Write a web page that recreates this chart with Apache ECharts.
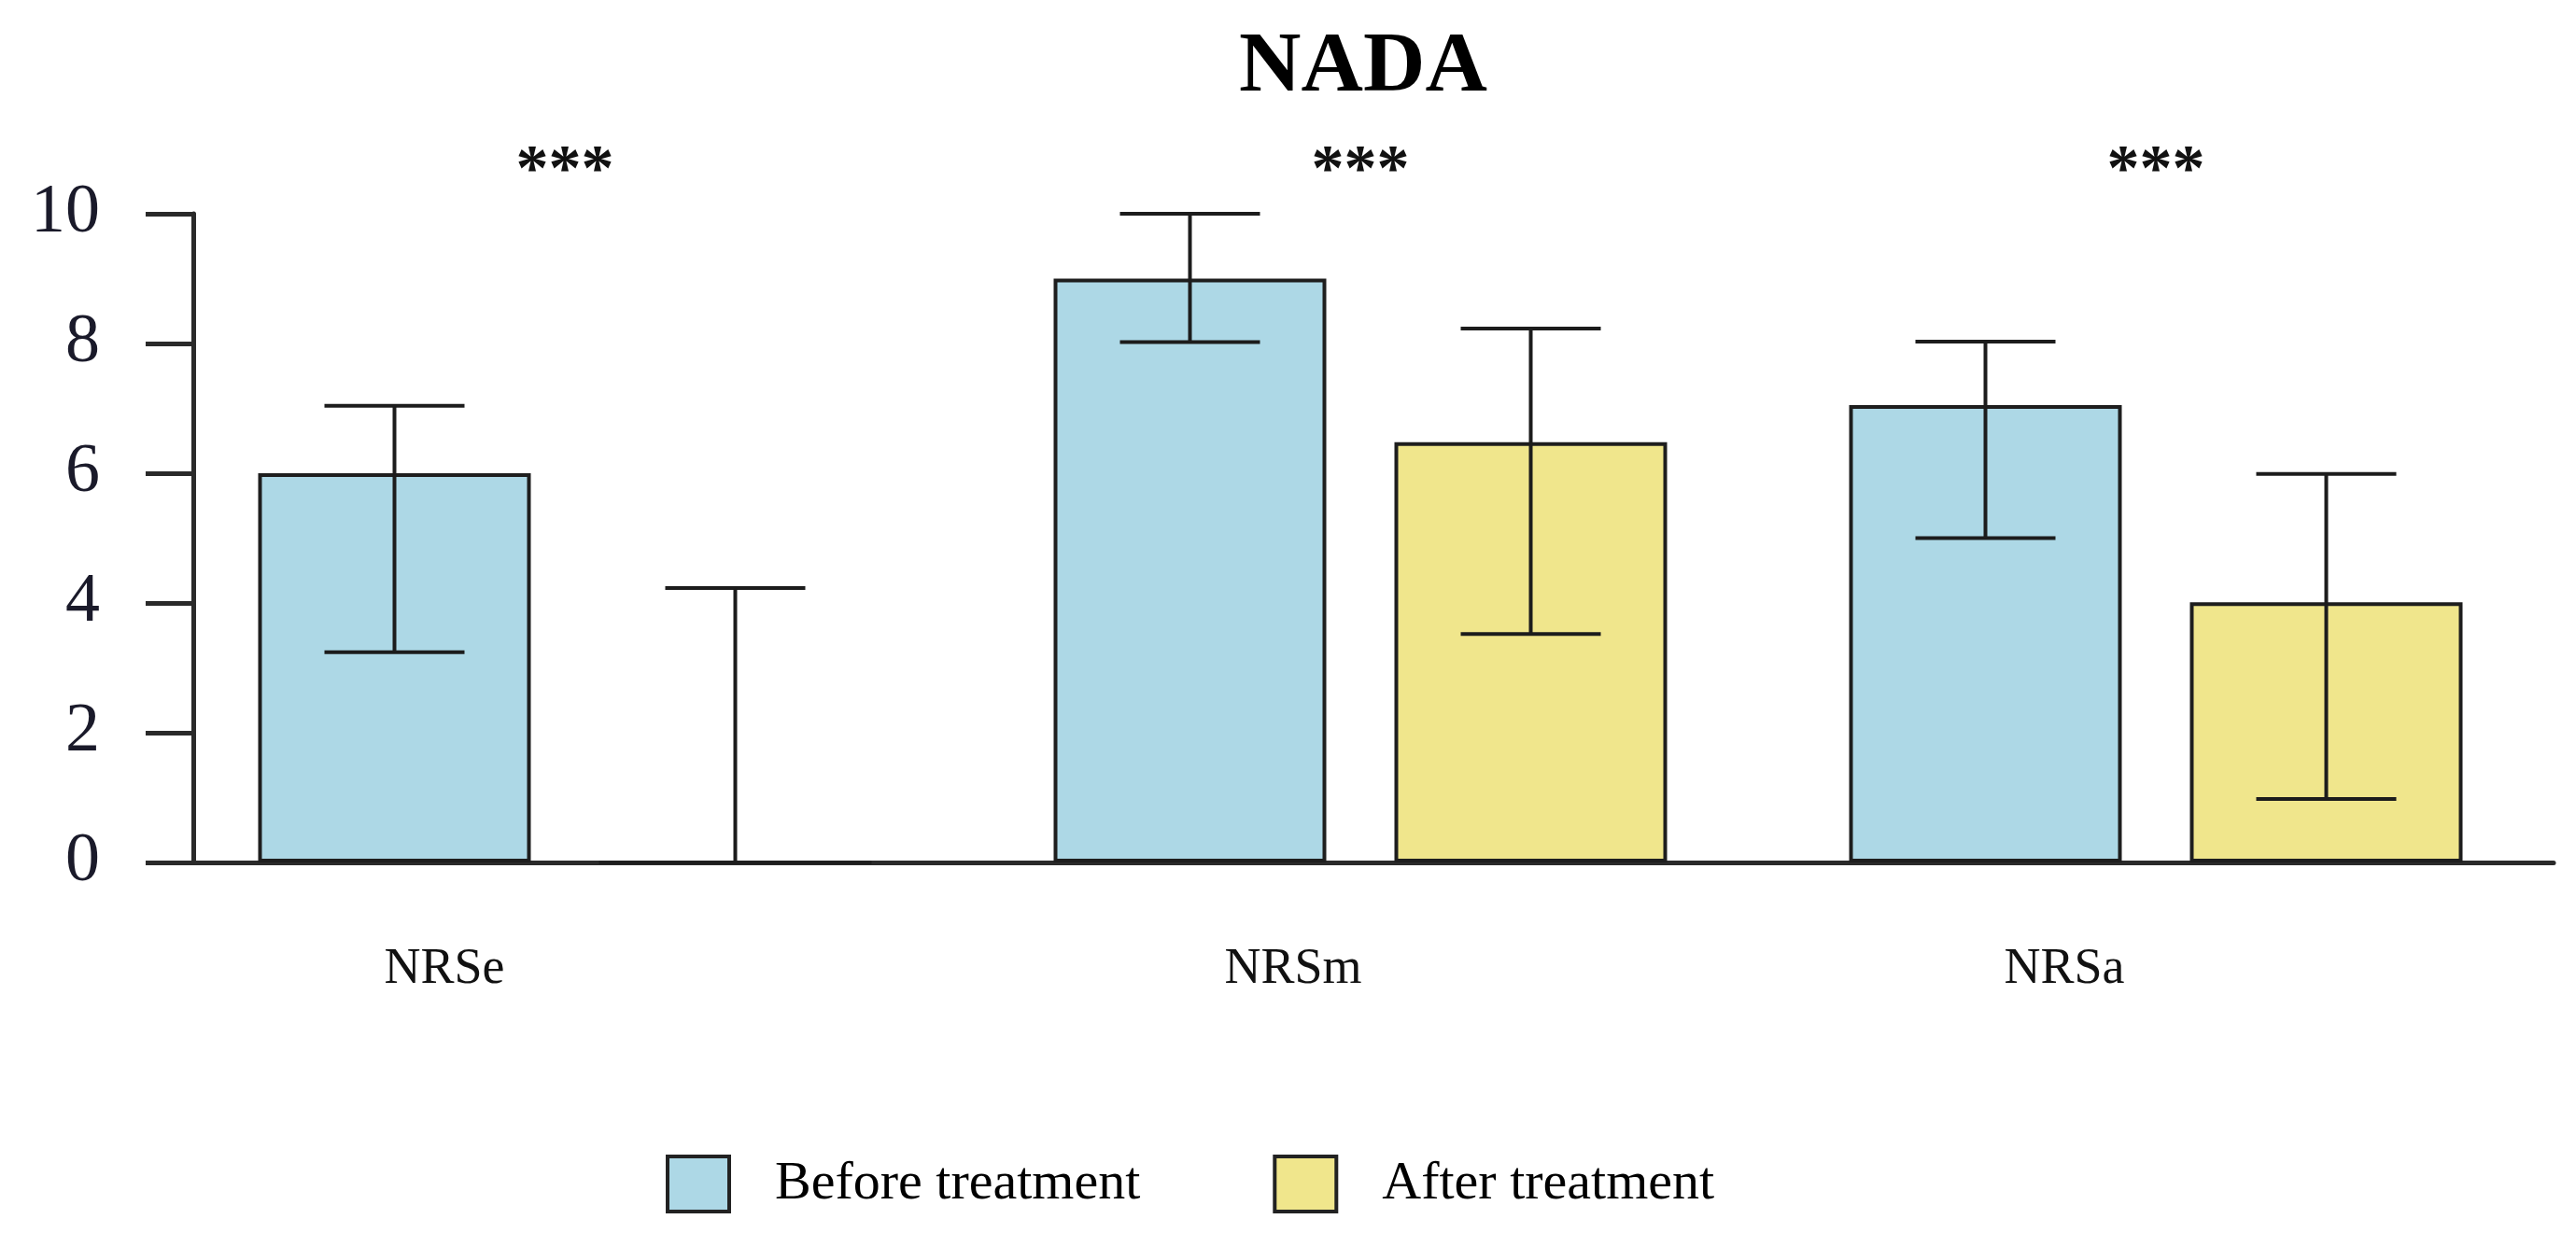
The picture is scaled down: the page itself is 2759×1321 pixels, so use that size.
<!DOCTYPE html>
<html>
<head>
<meta charset="utf-8">
<script src="https://cdn.jsdelivr.net/npm/echarts@6/dist/echarts.min.js"></script>
<style>
html,body{margin:0;padding:0;background:#fff;}
#chart{width:2759px;height:1321px;}
</style>
</head>
<body>
<div id="chart"></div>
<script>
// ---- data ----
const categories = ['NRSe', 'NRSm', 'NRSa'];
const beforeMean = [6.0, 9.0, 7.05];
const afterMean = [0, 6.48, 4.01];
const beforeLow = [3.24, 8.02, 5.0];
const beforeHigh = [7.04, 10.0, 8.03];
const afterLow = [0, 3.52, 0.98];
const afterHigh = [4.23, 8.23, 5.99];
const significance = ['***', '***', '***'];
const sigLevel = [10.63, 10.63, 10.63];
const yTickValues = [0, 2, 4, 6, 8, 10];
const seriesNames = ['Before treatment', 'After treatment'];

// ---- layout constants ----
const FONT = 'Liberation Serif';
const BAR_W = 292;
const BAR_GAP_PX = 73;
const CAP_W = 150;
const labelShift = [-129, -72, -98];

const chart = echarts.init(document.getElementById('chart'), null, {renderer: 'canvas'});

function errData(low, high) {
  return categories.map((c, i) => [i, low[i], high[i]]);
}

function errRender(side) {
  return function (params, api) {
    const idx = api.value(0);
    const lo = api.coord([idx, api.value(1)]);
    const hi = api.coord([idx, api.value(2)]);
    const shift = side * (BAR_W + BAR_GAP_PX) / 2;
    const x = lo[0] + shift;
    const style = {stroke: '#1c1c1c', lineWidth: 4};
    const children = [
      {type: 'line', shape: {x1: x, y1: lo[1], x2: x, y2: hi[1]}, style: style},
      {type: 'line', shape: {x1: x - CAP_W / 2, y1: hi[1], x2: x + CAP_W / 2, y2: hi[1]}, style: style}
    ];
    if (api.value(1) > 0) {
      children.push({type: 'line', shape: {x1: x - CAP_W / 2, y1: lo[1], x2: x + CAP_W / 2, y2: lo[1]}, style: style});
    }
    return {type: 'group', children: children};
  };
}

const rich = {};
categories.forEach((c, i) => {
  rich['c' + i] = {
    fontFamily: FONT, fontSize: 54, color: '#111',
    padding: labelShift[i] < 0 ? [0, -2 * labelShift[i], 0, 0] : [0, 0, 0, 2 * labelShift[i]]
  };
});

const option = {
  backgroundColor: '#ffffff',
  animation: false,
  title: {
    text: 'NADA',
    left: 1455, textAlign: 'center', top: 22,
    textStyle: {fontFamily: FONT, fontWeight: 'bold', fontSize: 92, color: '#000'}
  },
  legend: {
    data: seriesNames,
    left: 708, top: 1232,
    itemWidth: 66, itemHeight: 59, itemGap: 142,
    icon: 'rect',
    itemStyle: {borderColor: '#222', borderWidth: 4},
    textStyle: {fontFamily: FONT, fontSize: 58, color: '#000', padding: [0, 0, 0, 44]}
  },
  grid: {left: 179, right: 24, top: 229, bottom: 397, containLabel: false},
  xAxis: {
    type: 'category',
    data: categories,
    axisLine: {show: true, lineStyle: {color: '#2a2a2a', width: 5}},
    axisTick: {show: false},
    axisLabel: {
      margin: 88,
      formatter: function (v, i) { return '{c' + i + '|' + v + '}'; },
      rich: rich
    },
    splitLine: {show: false}
  },
  yAxis: {
    type: 'value',
    min: 0, max: 10, interval: 2,
    offset: -28,
    axisLine: {show: true, lineStyle: {color: '#2a2a2a', width: 5}},
    axisTick: {show: true, length: 51, lineStyle: {color: '#2a2a2a', width: 5}},
    axisLabel: {
      margin: 100,
      fontFamily: FONT, fontSize: 74, color: '#1a1a2a',
      formatter: function (v) { return yTickValues.indexOf(v) >= 0 ? String(v) : ''; }
    },
    splitLine: {show: false}
  },
  series: [
    {
      name: seriesNames[0], type: 'bar', data: beforeMean,
      barWidth: BAR_W, barGap: (BAR_GAP_PX / BAR_W * 100) + '%',
      itemStyle: {color: '#ADD8E6', borderColor: '#1e1e1e', borderWidth: 4}
    },
    {
      name: seriesNames[1], type: 'bar', data: afterMean,
      barWidth: BAR_W,
      itemStyle: {color: '#F0E68C', borderColor: '#1e1e1e', borderWidth: 4}
    },
    {
      name: 'errBefore', type: 'custom', data: errData(beforeLow, beforeHigh),
      renderItem: errRender(-1), encode: {x: 0, y: [1, 2]}, z: 5, clip: false
    },
    {
      name: 'errAfter', type: 'custom', data: errData(afterLow, afterHigh),
      renderItem: errRender(1), encode: {x: 0, y: [1, 2]}, z: 5, clip: false
    },
    {
      name: 'sig', type: 'custom',
      data: categories.map((c, i) => [i, sigLevel[i]]),
      encode: {x: 0, y: 1}, clip: false, z: 6,
      renderItem: function (params, api) {
        const p = api.coord([api.value(0), api.value(1)]);
        return {
          type: 'text',
          style: {
            text: significance[params.dataIndex], x: p[0], y: p[1],
            align: 'center', verticalAlign: 'middle',
            font: 'bold 70px "' + FONT + '"', fill: '#111'
          }
        };
      }
    }
  ]
};
chart.setOption(option);
</script>
</body>
</html>
